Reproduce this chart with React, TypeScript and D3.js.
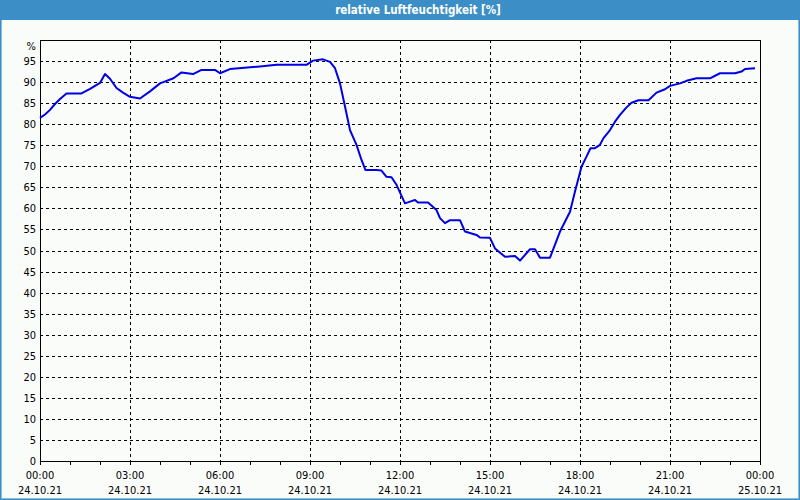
import React from "react";
import * as d3 from "d3";

const title = "relative Luftfeuchtigkeit [%]";
const unitLabel = "%";
const times = [
  "00:00","00:10","00:20","00:30","00:40","00:53","01:23","01:40","02:00","02:10",
  "02:20","02:33","02:46","03:00","03:20","03:40","04:00","04:27","04:43","05:06",
  "05:23","05:50","06:00","06:20","07:20","07:53","08:53","09:06","09:26","09:40",
  "09:50","10:00","10:10","10:20","10:33","10:43","10:51","11:13","11:23","11:33",
  "11:43","11:53","12:10","12:20","12:30","12:36","12:56","13:13","13:20","13:30",
  "13:40","14:00","14:10","14:33","14:40","15:00","15:10","15:30","15:50","16:00",
  "16:20","16:30","16:40","17:00","17:20","17:40","17:50","18:03","18:13","18:21",
  "18:30","18:40","18:47","19:00","19:10","19:20","19:33","19:43","19:57","20:17",
  "20:33","20:50","21:00","21:20","21:33","21:53","22:20","22:40","23:10","23:23",
  "23:30","23:50"
];
const humidity = [
  81.5,82.3,83.4,84.8,86.0,87.3,87.3,88.4,89.8,91.9,
  90.8,88.6,87.5,86.5,86.1,87.8,89.7,90.9,92.3,91.9,
  92.9,92.9,92.1,93.1,93.7,94.1,94.1,95.1,95.4,94.8,
  93.3,89.7,84.2,78.6,75.1,71.5,69.1,69.1,69.0,67.5,
  67.4,65.6,61.2,61.6,62.0,61.4,61.4,59.6,57.7,56.5,
  57.2,57.2,54.5,53.7,53.1,53.0,50.5,48.5,48.7,47.6,
  50.3,50.3,48.3,48.3,54.5,59.2,64.0,69.9,72.3,74.3,
  74.3,75.1,76.7,78.6,80.6,82.2,84.0,85.1,85.7,85.7,
  87.5,88.3,89.1,89.7,90.3,90.9,90.9,92.1,92.1,92.5,
  93.1,93.3
];
const yTicks = [0,5,10,15,20,25,30,35,40,45,50,55,60,65,70,75,80,85,90,95];
const xTickTimes = ["2021-10-24T00:00","2021-10-24T03:00","2021-10-24T06:00","2021-10-24T09:00","2021-10-24T12:00","2021-10-24T15:00","2021-10-24T18:00","2021-10-24T21:00","2021-10-25T00:00"];
const dayStart = "2021-10-24T00:00";
const dayEnd = "2021-10-25T00:00";

const W = 800, H = 500;
const M = { left: 40, right: 760, top: 40, bottom: 461 };
const FONT = "'DejaVu Sans Condensed', 'Noto Sans', sans-serif";
const BLUE = "#3c8fc6";

export default function App() {
  const parse = (s: string) => new Date(s);
  const x = d3.scaleTime().domain([parse(dayStart), parse(dayEnd)]).range([M.left, M.right]);
  const y = d3.scaleLinear().domain([0, 100]).range([M.bottom, M.top]);
  const data = times.map((t, i) => ({ t: parse(`2021-10-24T${t}`), v: humidity[i] }));
  const line = d3.line<{ t: Date; v: number }>().x(d => x(d.t)).y(d => y(d.v));
  const hourTicks = x.ticks(d3.timeHour.every(1)!);
  const majorTicks = xTickTimes.map(parse);
  const fmtTime = d3.timeFormat("%H:%M");
  const fmtDate = d3.timeFormat("%d.%m.%y");
  const crisp = (v: number) => Math.round(v) + 0.5;

  return (
    <div style={{ position: "fixed", left: 0, top: 0 }}>
      <svg width={W} height={H} style={{ display: "block" }} fontFamily={FONT}>
        <rect x={0} y={0} width={W} height={H} fill="#fafcfa" />
        <rect x={0} y={0} width={W} height={20} fill={BLUE} />
        <rect x={0.5} y={0.5} width={W - 1} height={H - 1} fill="none" stroke={BLUE} strokeWidth={1} />
        <rect x={1.5} y={1.5} width={W - 3} height={H - 3} fill="none" stroke={BLUE} strokeWidth={1} opacity={0.6} />
        <text x={418} y={14} fill="#fff" fontSize={11.5} fontWeight="bold" textAnchor="middle">{title}</text>

        {/* horizontal grid */}
        {yTicks.filter(t => t > 0).map(t => (
          <line key={"hg" + t} x1={M.left} x2={M.right} y1={crisp(y(t))} y2={crisp(y(t))}
            stroke="#000" strokeDasharray="3,3" shapeRendering="crispEdges" />
        ))}
        {/* vertical grid */}
        {majorTicks.slice(1, -1).map((t, i) => (
          <line key={"vg" + i} x1={crisp(x(t))} x2={crisp(x(t))} y1={M.top} y2={M.bottom}
            stroke="#000" strokeDasharray="3,3" shapeRendering="crispEdges" />
        ))}
        {/* frame */}
        <rect x={M.left + 0.5} y={M.top + 0.5} width={M.right - M.left} height={M.bottom - M.top}
          fill="none" stroke="#000" shapeRendering="crispEdges" />
        {/* hour ticks */}
        {hourTicks.map((t, i) => (
          <line key={"ht" + i} x1={crisp(x(t))} x2={crisp(x(t))} y1={M.bottom} y2={M.bottom + 4}
            stroke="#000" shapeRendering="crispEdges" />
        ))}
        {/* y labels */}
        {yTicks.map(t => (
          <text key={"yl" + t} x={36} y={y(t) + 4} fontSize={11} textAnchor="end" fill="#000">{t}</text>
        ))}
        <text x={36} y={50} fontSize={11} textAnchor="end" fill="#000">{unitLabel}</text>
        {/* x labels */}
        {majorTicks.map((t, i) => (
          <g key={"xl" + i}>
            <text x={x(t)} y={479} fontSize={11} textAnchor="middle" fill="#000">{fmtTime(t)}</text>
            <text x={x(t)} y={494} fontSize={11} textAnchor="middle" fill="#000">{fmtDate(t)}</text>
          </g>
        ))}
        <path d={line(data) || ""} fill="none" stroke="#0000e6" strokeWidth={2} strokeLinejoin="round" />
      </svg>
    </div>
  );
}
